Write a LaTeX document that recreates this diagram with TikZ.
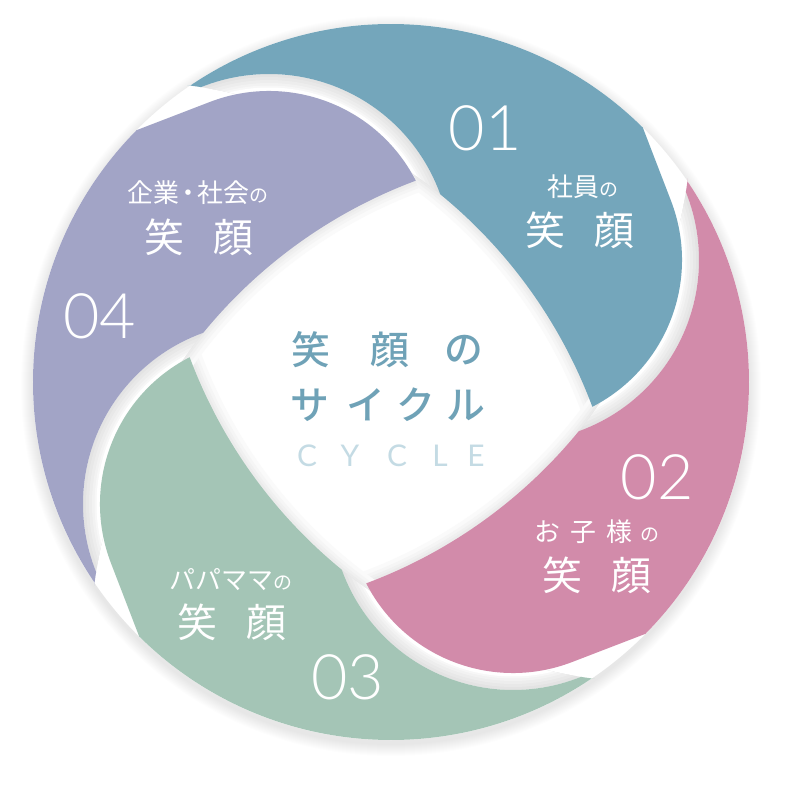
\documentclass[tikz,border=0pt]{standalone}
\usepackage{fontspec}
\usepackage{xcolor}
\newfontfamily\jpfont{Noto Sans CJK JP}
\IfFontExistsTF{Noto Sans CJK JP Medium}{\newfontfamily\jpmedium{Noto Sans CJK JP Medium}}{\newfontfamily\jpmedium{Noto Sans CJK JP}}
\IfFontExistsTF{Lato Light}{\newfontfamily\numfont{Lato Light}}{\newfontfamily\numfont{Lato}}
\newfontfamily\latinfont{Lato}
\definecolor{petalblue}{RGB}{116, 166, 187}
\definecolor{petalpink}{RGB}{210, 139, 170}
\definecolor{petalgreen}{RGB}{164, 197, 182}
\definecolor{petalpurple}{RGB}{162, 164, 198}
\definecolor{titleblue}{RGB}{111, 162, 183}
\definecolor{cyclelight}{RGB}{196, 219, 228}
\usetikzlibrary{calc}

% Petalo 01 (los demas son giros de 90 grados)
\newcommand{\petalpath}{(124.1:358) arc[start angle=124.1, end angle=45.3, radius=358]
    -- ($(126,122)+(20.8:165)$) arc[start angle=20.8, end angle=-62.6, radius=165]
    -- ($(-268,-200)+(20.5:501)$) arc[start angle=20.5, end angle=82.6, radius=501]
    -- cycle}
% Borde delantero del petalo y su zona de hueco
\newcommand{\frontedge}{(241.4,283.1) -- ($(126,122)+(20.8:165)$)
    arc[start angle=20.8, end angle=-80, radius=165]}
\newcommand{\frontcut}{(257.3,289.1) -- ($(126,122)+(20.8:182)$)
    arc[start angle=20.8, end angle=-80, radius=182] -- (126,122) -- cycle}
\newcommand{\smallno}{{\fontsize{19}{19}\selectfont の}}

\tikzset{
  num/.style={text=white, inner sep=0pt, font=\numfont\fontsize{63}{63}\selectfont},
  lblsmall/.style={text=white, inner sep=0pt, font=\jpfont\fontsize{26}{26}\selectfont},
  lblbig/.style={text=white, inner sep=0pt, font=\jpfont\fontsize{40}{40}\selectfont},
  ctitle/.style={text=titleblue, inner sep=0pt, font=\jpmedium\fontsize{39}{39}\selectfont},
  cycleletter/.style={text=cyclelight, inner sep=0pt, font=\latinfont\fontsize{30}{30}\selectfont}
}

\begin{document}
\begin{tikzpicture}[x=1bp, y=1bp]
\useasboundingbox (-391,-418) rectangle (409,382);

% === Sombra exterior y disco blanco ===
\foreach \s in {1,...,12}
  \fill[black, opacity=0.008] (0,-4) circle ({358+\s});
\fill[white] (0,0) circle (358);

% === Sombra sobre el centro blanco ===
\foreach \k in {0,...,3} {
  \begin{scope}[rotate={-90*\k}]
    \foreach \w/\c in {24/2, 16/4, 10/6, 5/8}
      \draw[black!\c, line width=\w bp]
        ($(-268,-200)+(20.5:501)$) arc[start angle=20.5, end angle=55, radius=501];
  \end{scope}
}

% === Huecos sombreados entre petalos ===
\foreach \k in {0,...,3} {
  \begin{scope}[rotate={-90*\k}]
    \clip \petalpath;
    \begin{scope}[rotate=90]
      \foreach \w/\c in {34/11, 28/9, 22/7, 16/5, 11/3}
        \draw[black!\c, line width=\w bp] \frontedge;
      \draw[white, line width=7bp] \frontedge;
    \end{scope}
  \end{scope}
}

% === Petalos ===
\foreach \col [count=\k from 0] in {petalblue, petalpink, petalgreen, petalpurple} {
  \begin{scope}[rotate={-90*\k}]
    \clip \petalpath;
    \begin{scope}[rotate=90]
      \fill[\col, even odd rule] (-600,-600) rectangle (600,600) \frontcut;
    \end{scope}
  \end{scope}
}

% === Numeros ===
\node[num] (n01) at (94,254) {01};
\node[num] (n02) at (266,-95) {02};
\node[num] (n03) at (-43,-295) {03};
\node[num] (n04) at (-291,66) {04};

% === Etiquetas de los petalos ===
\node[lblsmall] (sub01) at (192,195) {社員\smallno};
\node[lblbig] (face01) at (189,152) {笑\hspace{0.75em}顔};
\node[lblsmall] (sub02) at (206,-150) {お\hspace{0.38em}子\hspace{0.38em}様\hspace{0.3em}\smallno};
\node[lblbig] (face02) at (206,-193) {笑\hspace{0.75em}顔};
\node[lblsmall] (sub03) at (-160,-198) {パパママ\smallno};
\node[lblbig] (face03) at (-159,-240) {笑\hspace{0.75em}顔};
\node[lblsmall] (sub04) at (-193,189) {企業\hspace{-0.15em}・\hspace{-0.15em}社会\smallno};
\node[lblbig] (face04) at (-192,145) {笑\hspace{0.75em}顔};

% === Titulo central ===
\foreach \ch/\x [count=\i] in {笑/-80, 顔/-1, の/73}
  \node[ctitle] (title\i) at (\x,32) {\ch};
\foreach \ch/\x [count=\i] in {サ/-81, イ/-25, ク/25, ル/75}
  \node[ctitle] (kana\i) at (\x,-23) {\ch};
\foreach \ch/\x [count=\i] in {C/-84, Y/-41, C/6, L/49, E/85}
  \node[cycleletter] (cyc\i) at (\x,-74) {\ch};

\end{tikzpicture}
\end{document}
